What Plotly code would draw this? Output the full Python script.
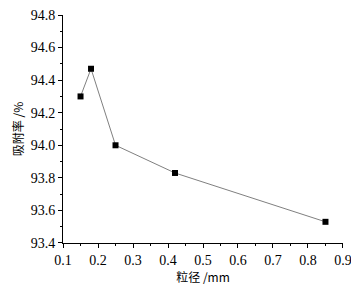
import plotly.graph_objects as go

particle_size = [0.15, 0.18, 0.25, 0.42, 0.85]
adsorption_rate = [94.30, 94.47, 94.00, 93.83, 93.53]
x_ticks = [0.1, 0.2, 0.3, 0.4, 0.5, 0.6, 0.7, 0.8, 0.9]
y_ticks = [93.4, 93.6, 93.8, 94.0, 94.2, 94.4, 94.6, 94.8]

serif = "Liberation Serif"

fig = go.Figure()
fig.add_trace(go.Scatter(
    x=particle_size, y=adsorption_rate, mode="lines+markers",
    line=dict(color="#808080", width=1),
    marker=dict(symbol="square", size=6, color="black"),
    showlegend=False, cliponaxis=False,
))

# page body has an 8px margin, so the figure is drawn at (8, 8)
fig.update_layout(
    width=351, height=278,
    margin=dict(l=55, r=16, t=7, b=43, autoexpand=False),
    paper_bgcolor="white", plot_bgcolor="white",
    font=dict(family=serif, size=14, color="black"),
    xaxis=dict(
        range=[0.0999, 0.9001], tickvals=x_ticks, ticktext=[f"{v:.1f}" for v in x_ticks],
        showline=True, linecolor="black", linewidth=1, mirror=False, automargin=False,
        ticks="outside", ticklen=4, tickcolor="black", showgrid=False, zeroline=False,
        minor=dict(ticks="outside", ticklen=2, tickcolor="black", dtick=0.05),
        tickfont=dict(family=serif, size=14), ticklabeloverflow="allow",
        title=dict(text="粒径 /mm", standoff=2, font=dict(family="Noto Sans CJK SC", size=12)),
    ),
    yaxis=dict(
        range=[93.3999, 94.8001], tickvals=y_ticks, ticktext=[f"{v:.1f}" for v in y_ticks],
        showline=True, linecolor="black", linewidth=1, mirror=False, automargin=False,
        ticks="outside", ticklen=4, tickcolor="black", showgrid=False, zeroline=False,
        minor=dict(ticks="outside", ticklen=2, tickcolor="black", dtick=0.1),
        tickfont=dict(family=serif, size=14), ticklabeloverflow="allow",
        title=dict(text="吸附率 /%", standoff=4, font=dict(family="Noto Sans CJK SC", size=12)),
    ),
)

fig.write_html("out.html")
